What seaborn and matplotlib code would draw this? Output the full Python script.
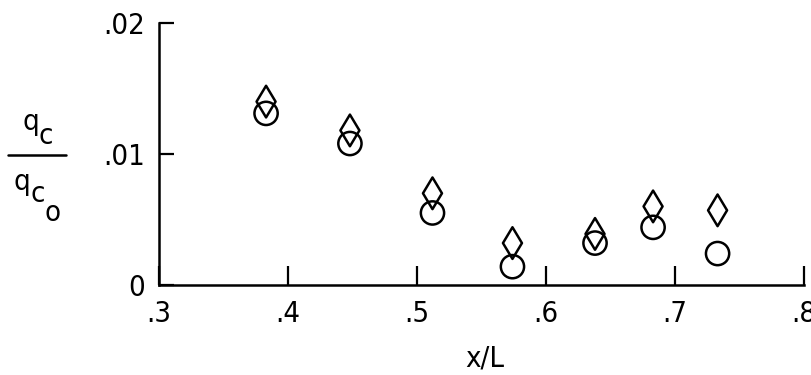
import matplotlib
matplotlib.use("Agg")
import matplotlib.pyplot as plt
import seaborn as sns
import pandas as pd

# Measured heating ratio along the body
x_over_l = [0.383, 0.448, 0.512, 0.574, 0.638, 0.683, 0.733]
q_circle = [0.0131, 0.0108, 0.0055, 0.0014, 0.0032, 0.0044, 0.0024]
q_diamond = [0.0140, 0.0118, 0.0070, 0.0032, 0.0039, 0.0060, 0.0057]

x_ticks = [0.3, 0.4, 0.5, 0.6, 0.7, 0.8]
x_tick_labels = [".3", ".4", ".5", ".6", ".7", ".8"]
y_ticks = [0.0, 0.01, 0.02]
y_tick_labels = ["0", ".01", ".02"]

sns.set_theme(style="ticks")
plt.rcParams["font.family"] = ["DejaVu Sans"]
plt.rcParams["font.stretch"] = "condensed"
for key in ("text.color", "axes.labelcolor", "xtick.color", "ytick.color",
            "xtick.labelcolor", "ytick.labelcolor"):
    plt.rcParams[key] = "black"
FS = 21

df_circle = pd.DataFrame({"x": x_over_l, "q": q_circle})
df_diamond = pd.DataFrame({"x": x_over_l, "q": q_diamond})

fig = plt.figure(figsize=(8.11, 3.75), dpi=100)
ax = fig.add_axes([159 / 811, 1 - 285 / 375, 645 / 811, 262 / 375])

sns.scatterplot(data=df_diamond, x="x", y="q", marker="d", s=260,
                facecolor="none", edgecolor="black", linewidth=1.8, ax=ax,
                clip_on=False)
sns.scatterplot(data=df_circle, x="x", y="q", marker="o", s=280,
                facecolor="none", edgecolor="black", linewidth=1.8, ax=ax,
                clip_on=False)

ax.set_xlim(0.3, 0.8)
ax.set_ylim(0.0, 0.02)
ax.set_xticks(x_ticks)
ax.set_xticklabels(x_tick_labels, fontsize=FS)
ax.set_yticks(y_ticks)
ax.set_yticklabels(y_tick_labels, fontsize=FS)
ax.tick_params(axis="x", direction="in", length=14, width=1.6, pad=11, color="black")
ax.tick_params(axis="y", direction="in", length=11, width=1.6, pad=10, color="black")

for side in ("top", "right"):
    ax.spines[side].set_visible(False)
for side in ("left", "bottom"):
    ax.spines[side].set_linewidth(1.8)
    ax.spines[side].set_color("black")

ax.set_xlabel("x/L", fontsize=FS, color="black")
ax.xaxis.set_label_coords(0.505, -0.28)
ax.xaxis.label.set_va("center")
ax.set_ylabel("")

# Fraction label q_c / q_c0 drawn beside the y axis
def px(x, y):
    return x / 811, 1 - y / 375

fig.text(*px(31, 122), "q", fontsize=FS, ha="center", va="center")
fig.text(*px(46, 136), "c", fontsize=FS, ha="center", va="center")
fig.add_artist(plt.Line2D([8 / 811, 66 / 811], [1 - 155 / 375] * 2,
                          color="black", linewidth=1.8, transform=fig.transFigure))
fig.text(*px(22, 182), "q", fontsize=FS, ha="center", va="center")
fig.text(*px(38, 194), "c", fontsize=FS, ha="center", va="center")
fig.text(*px(52, 213), "o", fontsize=FS, ha="center", va="center")

fig.savefig("out.png", dpi=100, facecolor="white")
